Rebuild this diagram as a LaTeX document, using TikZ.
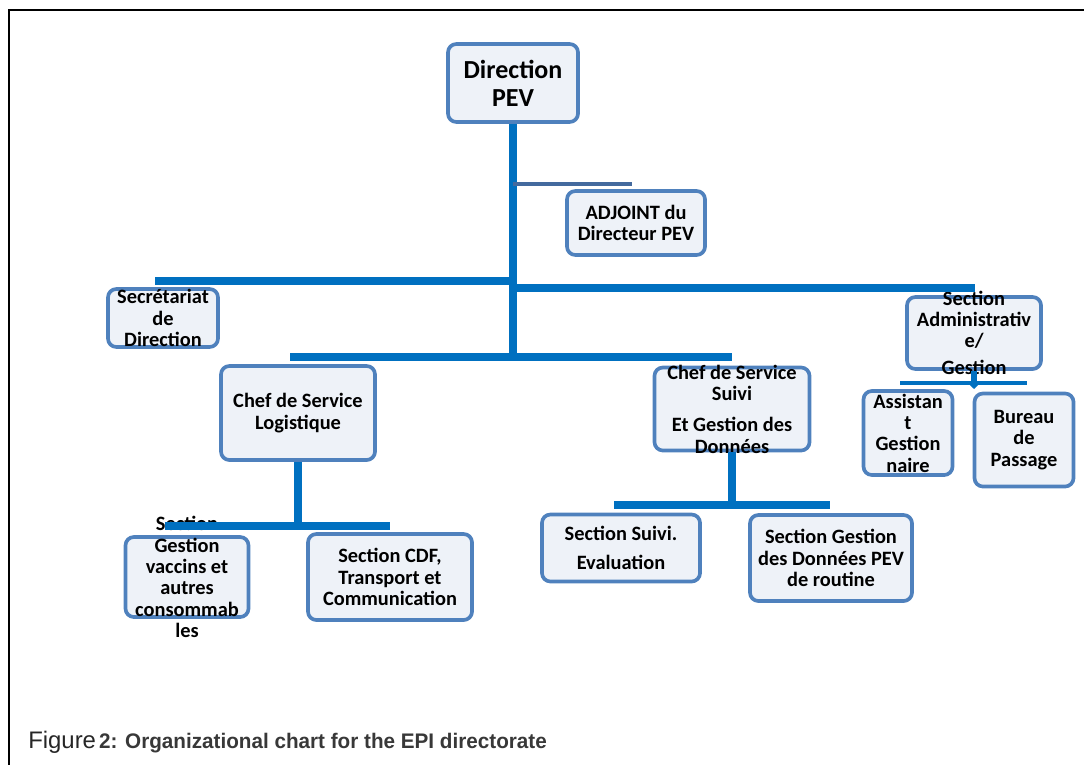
\documentclass[tikz,border=0pt]{standalone}
\usepackage{fontspec}
\setmainfont{Carlito}
\newfontfamily\capfont{Liberation Sans}
\newfontfamily\capnarrow[FakeStretch=0.98]{Liberation Sans}
\usepackage{tikz}
\usetikzlibrary{arrows.meta}
\definecolor{busblue}{RGB}{0,112,192}
\definecolor{boxline}{RGB}{79,129,189}
\definecolor{boxfill}{RGB}{238,242,248}
\definecolor{adjblue}{RGB}{68,106,158}
\tikzset{
  x=0.025cm, y=-0.025cm,
  unit/.style={draw=boxline, line width=2.6pt, fill=boxfill, rounded corners=6pt,
    align=center, inner ysep=0pt, font=\bfseries\fontsize{14.5}{15.2}\selectfont},
  trunk/.style={busblue, line width=6pt},
  bus/.style={busblue, line width=5pt},
  adjline/.style={adjblue, line width=2.2pt},
}

\begin{document}
\begin{tikzpicture}
      \useasboundingbox (0,0) rectangle (1084,765);
      \draw[line width=1.5pt] (1084,10) -- (9,10) -- (9,765);

      % boxes
      \node[unit, minimum width=3.25cm, minimum height=1.95cm,
            font=\bfseries\fontsize{18.5}{20}\selectfont] (dir) at (513,83) {Direction\\PEV};
      \node[unit, minimum width=3.45cm, minimum height=1.6cm]   (adj) at (636,223) {ADJOINT du\\Directeur PEV};
      \node[unit, minimum width=2.75cm, minimum height=1.45cm]  (sec) at (163,318) {Secrétariat\\de\\Direction};
      \node[unit, minimum width=3.35cm, minimum height=1.8cm, inner ysep=-8pt]
            (adm) at (974,333) {Section\\Administrativ\\e/\\[4pt]Gestion};
      \node[unit, minimum width=3.85cm, minimum height=2.35cm]  (log) at (298,413) {Chef de Service\\Logistique};
      \node[unit, minimum width=3.875cm, minimum height=2.075cm, inner ysep=-5pt]
            (sui) at (732,409) {Chef de Service\\Suivi\\[7pt]Et Gestion des\\Données};
      \node[unit, minimum width=2.225cm, minimum height=2.1cm]  (asst) at (908,433) {Assistan\\t\\Gestion\\naire};
      \node[unit, minimum width=2.475cm, minimum height=2.325cm] (bur) at (1024,440) {Bureau\\de\\Passage};
      \node[unit, minimum width=3.075cm, minimum height=2cm, inner ysep=-18pt]
            (vac) at (187,577) {Section\\Gestion\\vaccins et\\autres\\consommab\\les};
      \node[unit, minimum width=4.1cm, minimum height=2.15cm]   (cdf) at (390,577) {Section CDF,\\Transport et\\Communication};
      \node[unit, minimum width=3.95cm, minimum height=1.675cm] (eval) at (621,548) {Section Suivi.\\[5pt]Evaluation};
      \node[unit, minimum width=4.05cm, minimum height=2.15cm]  (don) at (831,558) {Section Gestion\\des Données PEV\\de routine};

      % bus ends
      \coordinate (adjbus) at (632,184);
      \coordinate (secbus) at (155,281);
      \coordinate (admbus) at (975,288);
      \coordinate (logbus) at (290,357);
      \coordinate (suibus) at (732,357);
      \coordinate (vacbus) at (165,526);
      \coordinate (cdfbus) at (390,526);
      \coordinate (evalbus) at (614,505);
      \coordinate (donbus) at (830,505);
      \coordinate (asstbus) at (900,383);
      \coordinate (burbus) at (1027,383);

      % connectors
      \draw[trunk] (dir.south) -- (dir.south |- logbus);
      \draw[adjline] (dir.south |- adjbus) -- (adjbus);
      \draw[bus] (secbus) -- (secbus -| dir.south);
      \draw[bus] (dir.south |- admbus) -- (admbus);
      \draw[bus] (logbus) -- (suibus);
      \draw[trunk] (log.south) -- (log.south |- vacbus);
      \draw[bus] (vacbus) -- (cdfbus);
      \draw[trunk] (sui.south) -- (sui.south |- evalbus);
      \draw[bus] (evalbus) -- (donbus);
      \draw[busblue, line width=3.5pt] (asstbus) -- (burbus);
      \draw[busblue, line width=4pt, -{Triangle[width=10pt,length=5pt]}] (adm.south) -- (adm.south |- 0,389);

      \node[anchor=base west, inner sep=0pt] (cap) at (28,748)
        {{\capfont\fontsize{17}{20}\selectfont\color{black!85} Figure} {\capnarrow\bfseries\fontsize{15}{17}\selectfont\color{black!78}2: Organizational chart for the EPI directorate}};
    \end{tikzpicture}
\end{document}
